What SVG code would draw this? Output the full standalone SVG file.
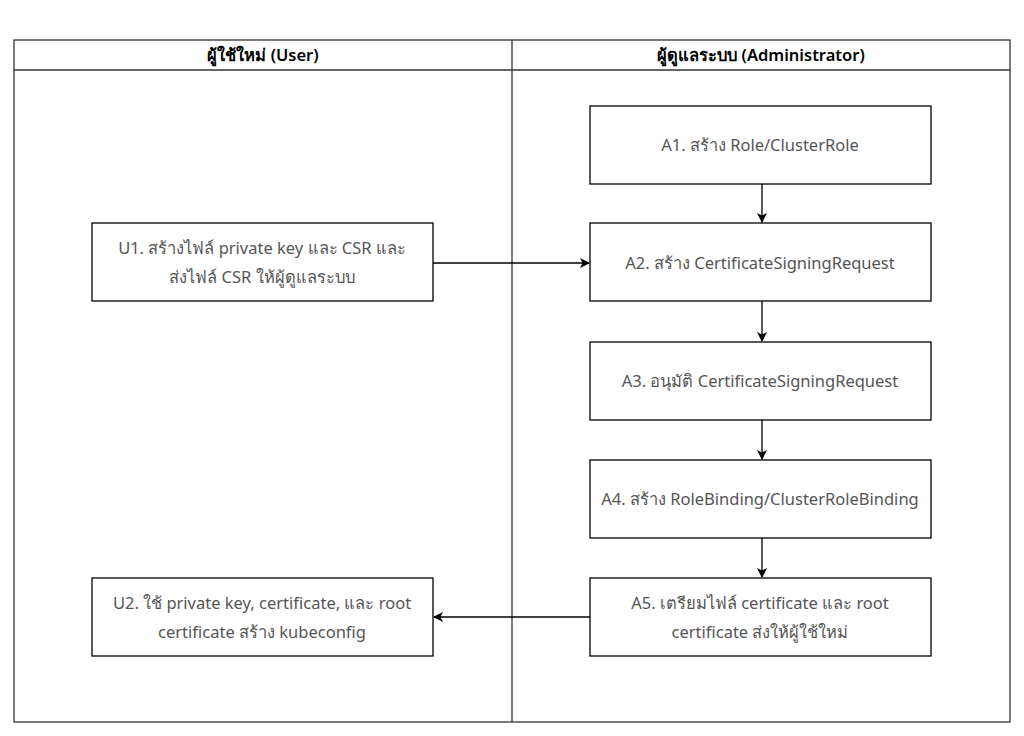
<svg xmlns="http://www.w3.org/2000/svg" width="1024" height="736" viewBox="0 0 1024 736">
<defs>
<marker id="ah" viewBox="0 0 10 10" refX="9" refY="5" markerWidth="10" markerHeight="10" markerUnits="userSpaceOnUse" orient="auto">
<path d="M0,0 L10,5 L0,10 L2.5,5 Z" fill="#000"/>
</marker>
</defs>
<style>
.lane{fill:#fff;stroke:#333;stroke-width:1.3}
.box{fill:#fff;stroke:#000;stroke-width:1.3}
.hd{font-family:"Noto Sans","DejaVu Sans",sans-serif;font-size:16.5px;font-weight:600;fill:#000;text-anchor:middle}
.tx{font-family:"Noto Sans","DejaVu Sans",sans-serif;font-size:16.5px;fill:#555;text-anchor:middle}
.cn{fill:none;stroke:#000;stroke-width:1.3;marker-end:url(#ah)}
</style>
<rect width="1024" height="736" fill="#fff"/>
<g id="lanes">
<rect class="lane" x="14" y="40" width="996" height="682"/>
<line x1="14" y1="70" x2="1010" y2="70" stroke="#333" stroke-width="1.3"/>
<line x1="512" y1="40" x2="512" y2="722" stroke="#333" stroke-width="1.3"/>
<text class="hd" x="263" y="61">ผู้ใช้ใหม่ (User)</text>
<text class="hd" x="761" y="61">ผู้ดูแลระบบ (Administrator)</text>
</g>
<g id="connectors">
<line class="cn" x1="762" y1="184" x2="762" y2="222"/>
<line class="cn" x1="762" y1="301" x2="762" y2="341"/>
<line class="cn" x1="762" y1="420" x2="762" y2="459"/>
<line class="cn" x1="762" y1="538" x2="762" y2="577"/>
<line class="cn" x1="433" y1="263" x2="589" y2="263"/>
<line class="cn" x1="590" y1="617" x2="434" y2="617"/>
</g>
<g id="U1">
<rect class="box" x="92" y="223" width="341" height="78"/>
<text class="tx" x="262" y="254">U1. สร้างไฟล์ private key และ CSR และ</text>
<text class="tx" x="262" y="283">ส่งไฟล์ CSR ให้ผู้ดูแลระบบ</text>
</g>
<g id="U2">
<rect class="box" x="92" y="578" width="341" height="78"/>
<text class="tx" x="262" y="609">U2. ใช้ private key, certificate, และ root</text>
<text class="tx" x="262" y="638">certificate สร้าง kubeconfig</text>
</g>
<g id="A1">
<rect class="box" x="590" y="106" width="341" height="78"/>
<text class="tx" x="760" y="151">A1. สร้าง Role/ClusterRole</text>
</g>
<g id="A2">
<rect class="box" x="590" y="223" width="341" height="78"/>
<text class="tx" x="760" y="269">A2. สร้าง CertificateSigningRequest</text>
</g>
<g id="A3">
<rect class="box" x="590" y="342" width="341" height="78"/>
<text class="tx" x="760" y="387">A3. อนุมัติ CertificateSigningRequest</text>
</g>
<g id="A4">
<rect class="box" x="590" y="460" width="341" height="78"/>
<text class="tx" x="760" y="505">A4. สร้าง RoleBinding/ClusterRoleBinding</text>
</g>
<g id="A5">
<rect class="box" x="590" y="578" width="341" height="78"/>
<text class="tx" x="760" y="609">A5. เตรียมไฟล์ certificate และ root</text>
<text class="tx" x="760" y="638">certificate ส่งให้ผู้ใช้ใหม่</text>
</g>
</svg>
